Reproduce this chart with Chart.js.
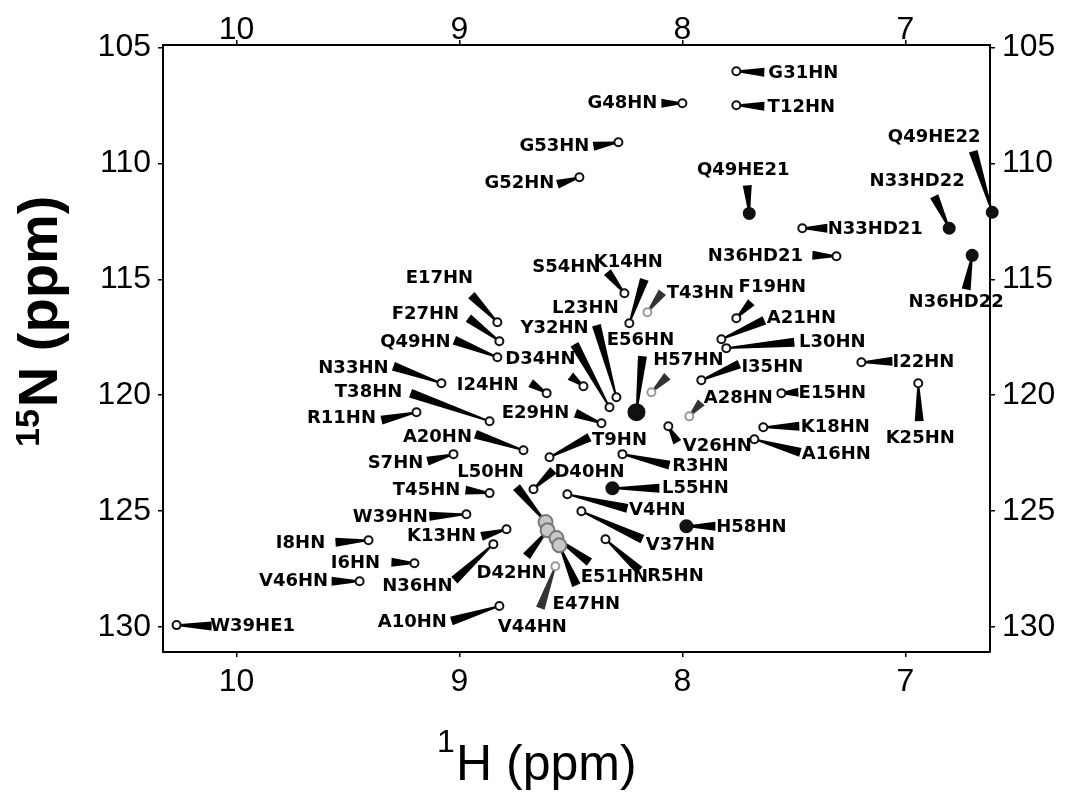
<!DOCTYPE html>
<html>
<head>
<meta charset="utf-8">
<script src="https://cdn.jsdelivr.net/npm/chart.js@4"></script>
<style>
  html, body { margin: 0; padding: 0; background: #fff; }
  #wrap { width: 1092px; height: 796px; }
</style>
</head>
<body>
<div id="wrap"><canvas id="chart"></canvas></div>
<script>
const hTicks = [10, 9, 8, 7];
const nTicks = [105, 110, 115, 120, 125, 130];

const peakNames = [
  'G31HN', 'T12HN', 'G48HN', 'G53HN', 'G52HN', 'Q49HE21', 'Q49HE22', 'N33HD22',
  'N33HD21', 'N36HD21', 'N36HD22', 'F19HN', 'A21HN', 'L30HN', 'I35HN', 'A28HN',
  'E15HN', 'I22HN', 'K25HN', 'K18HN', 'A16HN', 'V26HN', 'R3HN', 'L55HN',
  'V4HN', 'V37HN', 'H58HN', 'R5HN', 'D40HN', 'T9HN', 'L50HN', 'D42HN',
  'E51HN', 'E47HN', 'V44HN', 'A10HN', 'N36HN', 'K13HN', 'W39HN', 'T45HN',
  'S7HN', 'A20HN', 'I8HN', 'I6HN', 'V46HN', 'W39HE1', 'E17HN', 'F27HN',
  'Q49HN', 'D34HN', 'I24HN', 'N33HN', 'T38HN', 'R11HN', 'S54HN', 'K14HN',
  'T43HN', 'L23HN', 'Y32HN', 'E56HN', 'H57HN', 'E29HN'
];
const peakH = [
  7.758, 7.758, 8.000, 8.287, 8.462, 7.700, 6.610, 6.803,
  7.462, 7.309, 6.700, 7.758, 7.825, 7.803, 7.915, 7.969,
  7.556, 7.197, 6.942, 7.637, 7.677, 8.063, 8.269, 8.314,
  8.516, 8.453, 7.982, 8.345, 8.668, 8.596, 8.614, 8.605,
  8.565, 8.552, 8.570, 8.821, 8.848, 8.789, 8.969, 8.865,
  9.027, 8.713, 9.408, 9.202, 9.448, 10.269, 8.830, 8.821,
  8.830, 8.444, 8.609, 9.081, 8.865, 9.193, 8.260, 8.238,
  8.157, 8.296, 8.327, 8.206, 8.139, 8.363
];
const peakN = [
  106.03, 107.50, 107.41, 109.09, 110.60, 112.16, 112.11, 112.80,
  112.80, 114.01, 113.97, 116.68, 117.59, 117.97, 119.35, 120.91,
  119.91, 118.58, 119.48, 121.38, 121.90, 121.34, 122.54, 124.01,
  124.27, 125.00, 125.65, 126.21, 124.05, 122.67, 125.47, 125.82,
  126.16, 126.47, 127.37, 129.09, 126.42, 125.78, 125.13, 124.22,
  122.54, 122.37, 126.25, 127.24, 128.02, 129.91, 116.85, 117.67,
  118.36, 119.61, 119.91, 119.48, 121.12, 120.73, 115.60, 116.90,
  116.42, 120.09, 120.52, 120.73, 119.87, 121.21
];

// label placement, px from the peak: [label dx, label dy, wedge end dx, wedge end dy]
const labelLayout = {
  G31HN: [67, 2, 28, 1], T12HN: [65, 2, 28, 1], G48HN: [-60, 0, -21, 0],
  G53HN: [-64, 4, -25, 4], G52HN: [-60, 6, -22, 7], Q49HE21: [-6, -43, -2, -28],
  Q49HE22: [-58, -75, -19, -61], N33HD22: [-32, -47, -15, -32], N33HD21: [73, 1, 25, 0],
  N36HD21: [-81, 0, -24, -1], N36HD22: [-16, 47, -6, 34], F19HN: [36, -31, 15, -16],
  A21HN: [80, -21, 43, -19], L30HN: [106, -6, 68, -6], I35HN: [71, -13, 38, -16],
  A28HN: [49, -18, 12, -14], E15HN: [51, 0, 17, -1], I22HN: [62, 0, 31, -1],
  K25HN: [2, 55, 1, 38], K18HN: [72, 0, 36, -1], A16HN: [82, 15, 46, 13],
  V26HN: [49, 20, 9, 16], R3HN: [78, 12, 47, 11], L55HN: [83, 0, 47, 0],
  V4HN: [90, 16, 60, 14], V37HN: [99, 34, 61, 28], H58HN: [65, 1, 29, 0],
  R5HN: [70, 37, 34, 31], D40HN: [56, -17, 20, -19], T9HN: [70, -17, 40, -20],
  L50HN: [-55, -50, -29, -35], D42HN: [-36, 43, -21, 26], E51HN: [58, 39, 33, 24],
  E47HN: [27, 59, 17, 40], V44HN: [-23, 61, -15, 42], A10HN: [-87, 16, -48, 15],
  N36HN: [-76, 42, -39, 36], K13HN: [-65, 7, -25, 7], W39HN: [-76, 3, -37, 2],
  T45HN: [-63, -3, -24, -3], S7HN: [-58, 9, -26, 7], A20HN: [-86, -13, -48, -16],
  I8HN: [-68, 3, -33, 2], I6HN: [-59, 0, -23, -1], V46HN: [-66, 0, -28, 0],
  W39HE1: [76, 1, 35, 1], E17HN: [-58, -44, -26, -27], F27HN: [-74, -27, -31, -23],
  Q49HN: [-82, -15, -43, -17], D34HN: [-43, -27, -13, -10], I24HN: [-59, -8, -16, -10],
  N33HN: [-88, -15, -48, -17], T38HN: [-121, -29, -79, -28], R11HN: [-75, 6, -35, 8],
  S54HN: [-58, -26, -17, -21], K14HN: [-1, -61, 15, -44], T43HN: [53, -19, 15, -20],
  L23HN: [-31, -89, -20, -72], Y32HN: [-55, -79, -35, -63], E56HN: [4, -72, 6, -56],
  H57HN: [37, -32, 16, -16], E29HN: [-66, -10, -26, -10]
};

const solidPeaks = ['Q49HE21', 'Q49HE22', 'N33HD22', 'N36HD22', 'L55HN', 'E56HN', 'H58HN'];
const faintPeaks = ['T43HN', 'H57HN', 'A28HN', 'V44HN'];
const clusterPeaks = ['L50HN', 'D42HN', 'E51HN', 'E47HN'];

const points = peakNames.map((n, i) => ({ x: peakH[i], y: peakN[i] }));

function radiusOf(n) {
  if (n === 'E56HN') return 8;
  if (n === 'L55HN' || n === 'H58HN') return 6;
  if (clusterPeaks.includes(n)) return 7;
  if (solidPeaks.includes(n)) return 5.5;
  return 4;
}
function fillOf(n) {
  if (solidPeaks.includes(n)) return '#111';
  if (clusterPeaks.includes(n)) return '#c8c8c8';
  return '#fff';
}
function strokeOf(n) {
  if (faintPeaks.includes(n)) return '#999';
  if (clusterPeaks.includes(n)) return '#777';
  return '#111';
}

function wedge(ctx, x0, y0, x1, y1, w0, w1) {
  const dx = x1 - x0, dy = y1 - y0, len = Math.hypot(dx, dy);
  const nx = -dy / len, ny = dx / len;
  ctx.beginPath();
  ctx.moveTo(x0 + nx * w0, y0 + ny * w0);
  ctx.lineTo(x1 + nx * w1, y1 + ny * w1);
  ctx.lineTo(x1 - nx * w1, y1 - ny * w1);
  ctx.lineTo(x0 - nx * w0, y0 - ny * w0);
  ctx.closePath();
  ctx.fill();
}

const leaders = {
  id: 'leaders',
  beforeDatasetsDraw(chart) {
    const { ctx, scales: { x, y } } = chart;
    ctx.save();
    peakNames.forEach((n, i) => {
      const l = labelLayout[n];
      const px = x.getPixelForValue(peakH[i]);
      const py = y.getPixelForValue(peakN[i]);
      ctx.fillStyle = faintPeaks.includes(n) ? '#333' : '#000';
      wedge(ctx, px, py, px + l[2], py + l[3], 0.8, 4.5);
    });
    ctx.restore();
  },
  afterDatasetsDraw(chart) {
    const { ctx, scales: { x, y } } = chart;
    ctx.save();
    ctx.font = 'bold 18px "DejaVu Sans"';
    ctx.textAlign = 'center';
    ctx.textBaseline = 'middle';
    ctx.fillStyle = '#000';
    peakNames.forEach((n, i) => {
      const l = labelLayout[n];
      const px = x.getPixelForValue(peakH[i]);
      const py = y.getPixelForValue(peakN[i]);
      ctx.fillText(n, px + l[0], py + l[1]);
    });
    ctx.restore();
  }
};

const axisTitles = {
  id: 'axisTitles',
  afterDraw(chart) {
    const ctx = chart.ctx;
    ctx.save();
    ctx.fillStyle = '#000';
    ctx.textBaseline = 'alphabetic';
    ctx.textAlign = 'left';
    // left: 15N (ppm)
    ctx.translate(57, 447);
    ctx.rotate(-Math.PI / 2);
    ctx.font = 'bold 34px "Liberation Sans"';
    ctx.fillText('15', 0, -18);
    const w = ctx.measureText('15').width;
    ctx.font = 'bold 56px "Liberation Sans"';
    ctx.fillText('N (ppm)', w + 2, 0);
    ctx.restore();
    // bottom: 1H (ppm)
    ctx.save();
    ctx.fillStyle = '#000';
    ctx.textBaseline = 'alphabetic';
    ctx.textAlign = 'left';
    ctx.font = '32px "Liberation Sans"';
    ctx.fillText('1', 437, 752);
    ctx.font = '50px "Liberation Sans"';
    ctx.fillText('H (ppm)', 456, 780);
    ctx.restore();
  }
};

const tickFont = { family: '"Liberation Sans"', size: 32 };
function axis(position, min, max, ticks, size, pad) {
  const horiz = position === 'top' || position === 'bottom';
  return {
    type: 'linear',
    position,
    min, max,
    reverse: true,
    afterBuildTicks: s => { s.ticks = ticks.map(v => ({ value: v })); },
    afterFit: s => { if (horiz) s.height = size; else s.width = size; },
    ticks: { color: '#000', font: tickFont, padding: pad, maxRotation: 0, autoSkip: false },
    grid: { drawOnChartArea: false, color: '#000', lineWidth: 1.5, tickLength: 5 },
    border: { color: '#000', width: 2 }
  };
}

new Chart(document.getElementById('chart'), {
  type: 'scatter',
  data: {
    datasets: [{
      data: points,
      clip: false,
      pointRadius: peakNames.map(radiusOf),
      pointHoverRadius: peakNames.map(radiusOf),
      pointBackgroundColor: peakNames.map(fillOf),
      pointBorderColor: peakNames.map(strokeOf),
      pointBorderWidth: 2
    }]
  },
  options: {
    responsive: true,
    maintainAspectRatio: false,
    animation: false,
    layout: { padding: 0 },
    plugins: { legend: { display: false }, tooltip: { enabled: false } },
    scales: {
      x: axis('bottom', 6.62, 10.33, hTicks, 144, 6),
      x2: axis('top', 6.62, 10.33, hTicks, 45, -9),
      y: axis('left', 104.9, 131.07, nTicks, 163, 7),
      y2: axis('right', 104.9, 131.07, nTicks, 102, 7)
    }
  },
  plugins: [leaders, axisTitles]
});
</script>
</body>
</html>
